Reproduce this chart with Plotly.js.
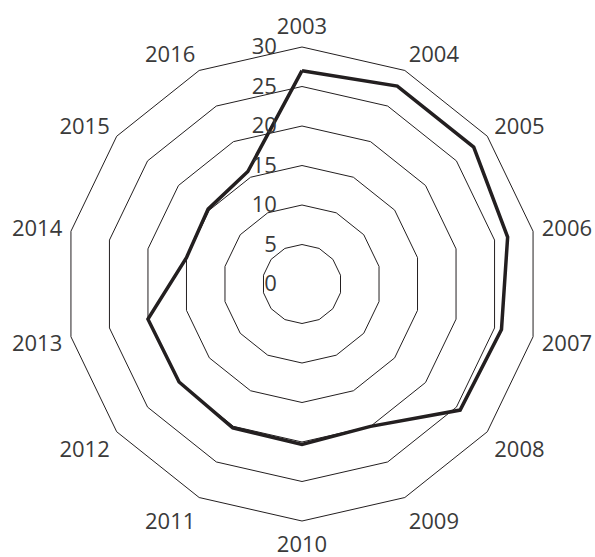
<!DOCTYPE html>
<html>
<head>
<meta charset="utf-8">
<script src="https://cdn.plot.ly/plotly-3.0.1.min.js"></script>
<style>html,body{margin:0;padding:0;background:#fff;}#chart{width:595px;height:557px;}</style>
</head>
<body>
<div id="chart"></div>
<script>
const years = ["2003","2004","2005","2006","2007","2008","2009","2010","2011","2012","2013","2014","2015","2016"];
const values = [27.0, 27.8, 27.8, 26.7, 25.9, 25.6, 20.0, 20.3, 20.2, 19.9, 20.0, 15.0, 15.2, 15.8];
const radialTicks = [0, 5, 10, 15, 20, 25, 30];

const trace = {
  type: 'scatterpolar',
  mode: 'lines',
  r: values.concat([values[0]]),
  theta: years.concat([years[0]]),
  line: {color: '#231f20', width: 3.5},
  hoverinfo: 'skip'
};

const layout = {
  width: 595,
  height: 557,
  margin: {l: 65, r: 56, t: 47, b: 36, pad: 0},
  paper_bgcolor: '#fff',
  showlegend: false,
  font: {family: 'Open Sans, sans-serif', size: 22, color: '#3a3a3a'},
  polar: {
    domain: {x: [0, 1], y: [0, 1]},
    bgcolor: '#fff',
    gridshape: 'linear',
    radialaxis: {
      range: [0, 30],
      tickvals: radialTicks,
      ticktext: radialTicks.map(String),
      angle: 90,
      tickangle: 90,
      side: 'counterclockwise',
      showline: false,
      showgrid: true,
      gridcolor: '#231f20',
      gridwidth: 1,
      ticks: 'outside',
      ticklen: 17,
      tickcolor: 'rgba(0,0,0,0)',
      tickfont: {family: 'Open Sans, sans-serif', size: 22, color: '#3a3a3a'}
    },
    angularaxis: {
      type: 'category',
      categoryarray: years,
      direction: 'clockwise',
      rotation: 90,
      showgrid: false,
      showline: true,
      linecolor: '#231f20',
      linewidth: 1,
      ticks: 'outside',
      ticklen: 4,
      tickcolor: 'rgba(0,0,0,0)',
      tickfont: {family: 'Open Sans, sans-serif', size: 22, color: '#3a3a3a'}
    }
  }
};

Plotly.newPlot('chart', [trace], layout, {displayModeBar: false, staticPlot: true});
</script>
</body>
</html>
